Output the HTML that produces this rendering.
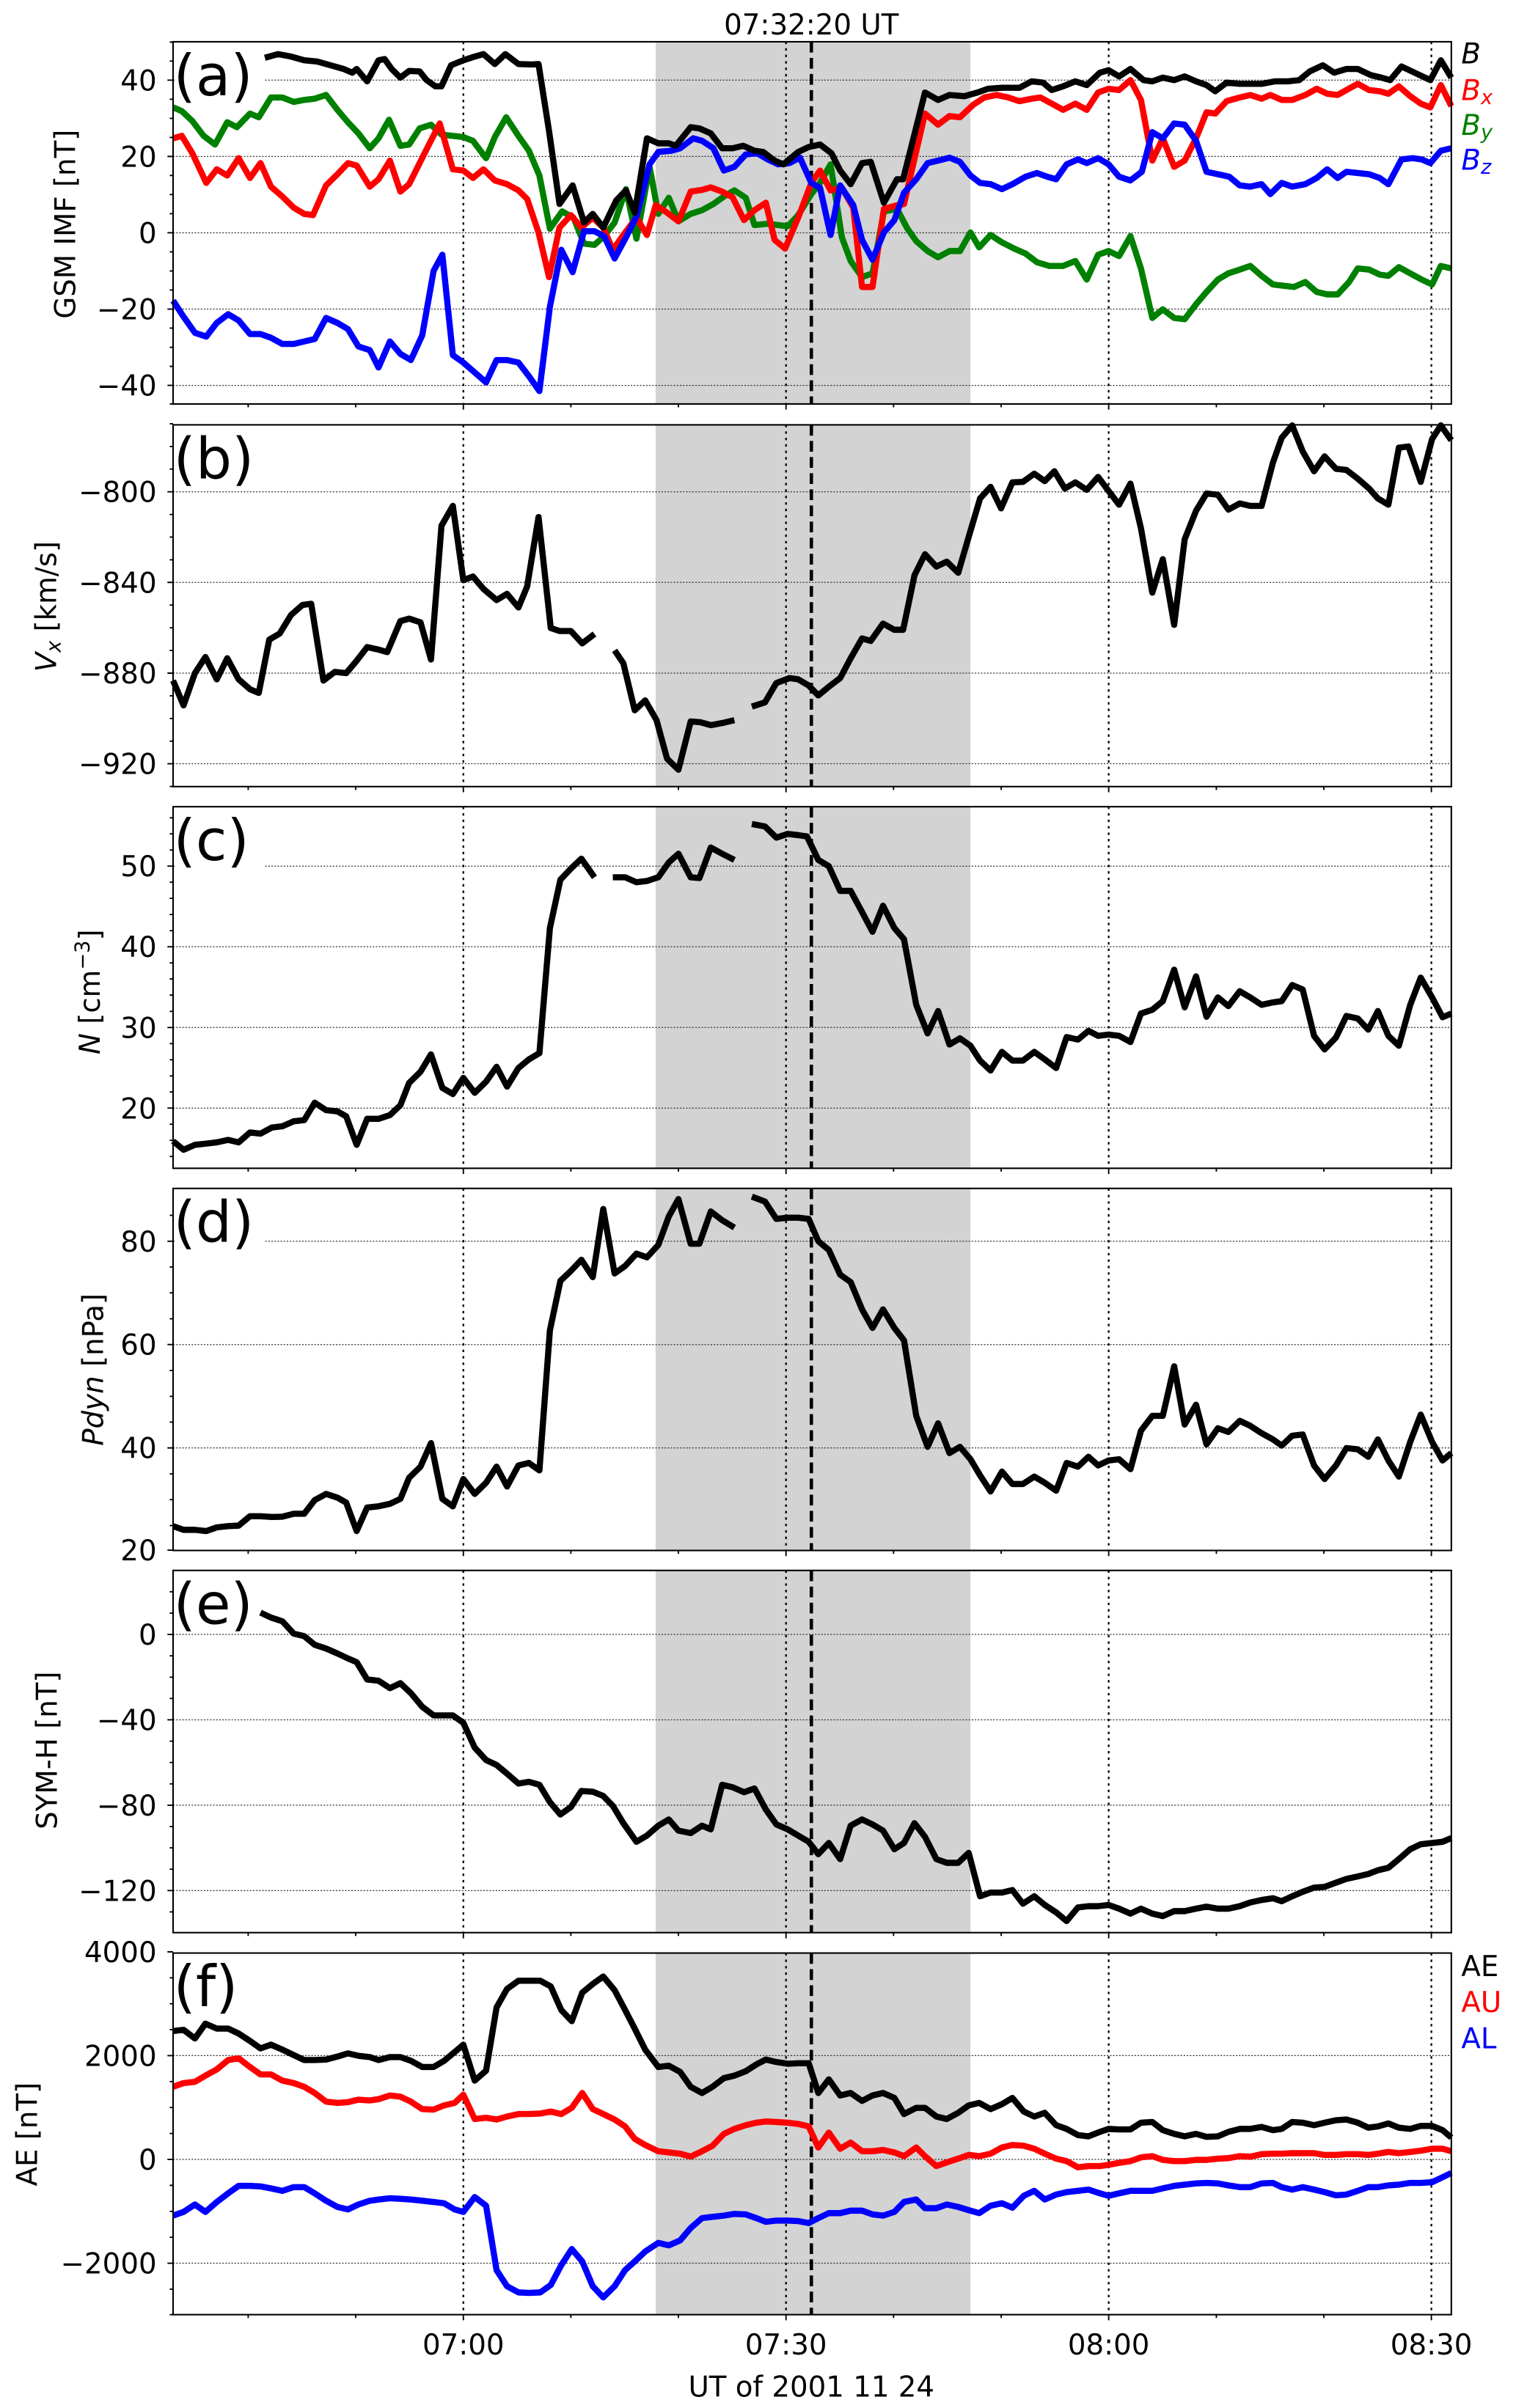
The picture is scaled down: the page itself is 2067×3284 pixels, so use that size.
<!DOCTYPE html>
<html><head><meta charset="utf-8"><style>
html,body{margin:0;padding:0;background:#fff}
svg{display:block}
text{font-family:"DejaVu Sans","Liberation Sans",sans-serif;fill:#000}
polyline{stroke-width:8.4}
</style></head><body>
<svg xmlns="http://www.w3.org/2000/svg" width="2067" height="3284" viewBox="0 0 987.1 1568.3">
<rect width="987.1" height="1568.3" fill="#fff"/>
<!-- shading -->
<g fill="#d3d3d3">
<rect x="426.9" y="27.2" width="205" height="235.9"/>
<rect x="426.9" y="276.7" width="205" height="235.6"/>
<rect x="426.9" y="525.4" width="205" height="235.5"/>
<rect x="426.9" y="774" width="205" height="235.8"/>
<rect x="426.9" y="1022.8" width="205" height="235.9"/>
<rect x="426.9" y="1272" width="205" height="235.5"/>
</g>
<!-- horizontal grid -->
<g stroke="#333" stroke-width="0.6" stroke-dasharray="1,1">
<line x1="112.7" x2="945" y1="52.2" y2="52.2"/><line x1="112.7" x2="945" y1="101.9" y2="101.9"/><line x1="112.7" x2="945" y1="151.6" y2="151.6"/><line x1="112.7" x2="945" y1="201.3" y2="201.3"/><line x1="112.7" x2="945" y1="251" y2="251"/>
<line x1="112.7" x2="945" y1="320.3" y2="320.3"/><line x1="112.7" x2="945" y1="379.3" y2="379.3"/><line x1="112.7" x2="945" y1="438.4" y2="438.4"/><line x1="112.7" x2="945" y1="497.4" y2="497.4"/>
<line x1="112.7" x2="945" y1="564.1" y2="564.1"/><line x1="112.7" x2="945" y1="616.6" y2="616.6"/><line x1="112.7" x2="945" y1="669.2" y2="669.2"/><line x1="112.7" x2="945" y1="721.7" y2="721.7"/>
<line x1="112.7" x2="945" y1="808.4" y2="808.4"/><line x1="112.7" x2="945" y1="875.7" y2="875.7"/><line x1="112.7" x2="945" y1="943" y2="943"/>
<line x1="112.7" x2="945" y1="1064.5" y2="1064.5"/><line x1="112.7" x2="945" y1="1120.1" y2="1120.1"/><line x1="112.7" x2="945" y1="1175.7" y2="1175.7"/><line x1="112.7" x2="945" y1="1231.3" y2="1231.3"/>
<line x1="112.7" x2="945" y1="1338.8" y2="1338.8"/><line x1="112.7" x2="945" y1="1406.4" y2="1406.4"/><line x1="112.7" x2="945" y1="1474" y2="1474"/>
</g>
<!-- vertical dotted lines -->
<g stroke="#000" stroke-width="1.1" stroke-dasharray="1.6,2.6">
<line x1="301.7" x2="301.7" y1="27.2" y2="263.1"/><line x1="511.8" x2="511.8" y1="27.2" y2="263.1"/><line x1="721.9" x2="721.9" y1="27.2" y2="263.1"/><line x1="932" x2="932" y1="27.2" y2="263.1"/>
<line x1="301.7" x2="301.7" y1="276.7" y2="512.3"/><line x1="511.8" x2="511.8" y1="276.7" y2="512.3"/><line x1="721.9" x2="721.9" y1="276.7" y2="512.3"/><line x1="932" x2="932" y1="276.7" y2="512.3"/>
<line x1="301.7" x2="301.7" y1="525.4" y2="760.9"/><line x1="511.8" x2="511.8" y1="525.4" y2="760.9"/><line x1="721.9" x2="721.9" y1="525.4" y2="760.9"/><line x1="932" x2="932" y1="525.4" y2="760.9"/>
<line x1="301.7" x2="301.7" y1="774" y2="1009.8"/><line x1="511.8" x2="511.8" y1="774" y2="1009.8"/><line x1="721.9" x2="721.9" y1="774" y2="1009.8"/><line x1="932" x2="932" y1="774" y2="1009.8"/>
<line x1="301.7" x2="301.7" y1="1022.8" y2="1258.7"/><line x1="511.8" x2="511.8" y1="1022.8" y2="1258.7"/><line x1="721.9" x2="721.9" y1="1022.8" y2="1258.7"/><line x1="932" x2="932" y1="1022.8" y2="1258.7"/>
<line x1="301.7" x2="301.7" y1="1272" y2="1507.5"/><line x1="511.8" x2="511.8" y1="1272" y2="1507.5"/><line x1="721.9" x2="721.9" y1="1272" y2="1507.5"/><line x1="932" x2="932" y1="1272" y2="1507.5"/>
</g>
<g stroke="#000" stroke-width="2.2" stroke-dasharray="7,3.5">
<line x1="528.3" x2="528.3" y1="27.2" y2="263.1"/><line x1="528.3" x2="528.3" y1="276.7" y2="512.3"/><line x1="528.3" x2="528.3" y1="525.4" y2="760.9"/><line x1="528.3" x2="528.3" y1="774" y2="1009.8"/><line x1="528.3" x2="528.3" y1="1022.8" y2="1258.7"/><line x1="528.3" x2="528.3" y1="1272" y2="1507.5"/>
</g>
<!-- label boxes -->
<g fill="#fff"><rect x="114" y="28.5" width="58" height="40"/><rect x="114" y="278" width="58" height="40"/><rect x="114" y="527" width="58" height="40"/><rect x="114" y="775.5" width="58" height="40"/><rect x="114" y="1024" width="58" height="40"/><rect x="114" y="1273.5" width="46" height="40"/></g>
<!-- data -->
<g fill="none" stroke-linejoin="round">
<g transform="matrix(0.5693,0,0,0.16135,95.6,19.10)">
<polyline vector-effect="non-scaling-stroke" stroke="#008000" points="30,315 40,330 52,370 65,430 78,465 92,375 103,395 118,340 128,355 142,275 155,275 168,293 180,285 192,280 205,265 218,325 230,375 242,420 255,480 265,440 277,365 290,470 300,465 312,400 325,385 337,425 350,430 362,435 373,450 388,520 398,435 411,355 425,430 437,490 449,590 461,805 475,735 488,760 500,865 512,870 523,835 535,780 548,645 560,845 575,555 585,745 597,680 608,775 622,745 635,730 648,705 660,675 672,650 685,680 695,790 710,785 722,790 733,795 745,750 760,665 770,620 782,545 795,840 805,935 818,1000 830,985 843,735 858,725 870,805 880,855 893,895 905,920 918,895 930,895 942,820 952,880 965,830 978,860 992,885 1005,905 1018,940 1032,955 1048,955 1062,935 1075,1010 1088,910 1100,895 1112,915 1125,835 1137,965 1150,1165 1162,1130 1175,1165 1187,1170 1200,1110 1212,1060 1225,1010 1237,985 1250,970 1262,955 1275,995 1288,1030 1300,1035 1312,1040 1325,1020 1338,1060 1350,1070 1362,1070 1375,1020 1385,965 1398,970 1410,990 1420,995 1432,960 1445,985 1458,1010 1470,1030 1480,955 1492,965"/>
<polyline vector-effect="non-scaling-stroke" stroke="#ff0000" points="30,440 40,430 52,500 68,620 80,565 92,590 105,520 118,600 130,540 142,635 155,675 168,720 180,745 190,750 205,630 218,585 230,540 240,550 255,635 265,605 278,530 290,655 300,625 312,540 322,470 335,380 350,565 362,570 373,600 385,565 398,610 412,625 425,650 435,685 448,820 460,1000 472,800 485,750 497,800 510,760 522,800 533,890 545,830 560,760 572,830 582,710 595,740 608,775 622,655 635,648 645,638 658,655 670,678 683,770 695,730 708,700 718,850 730,885 745,760 760,620 770,570 782,650 795,640 808,720 818,1040 830,1040 843,725 858,710 866,705 890,340 905,385 918,350 930,355 945,305 958,275 972,265 985,275 998,290 1012,280 1022,275 1035,300 1048,325 1062,300 1075,325 1088,255 1100,240 1112,245 1125,205 1137,285 1150,530 1162,440 1175,555 1187,530 1200,440 1212,335 1222,340 1235,290 1250,275 1262,265 1275,280 1285,265 1298,285 1310,285 1325,265 1338,240 1350,260 1362,265 1372,245 1385,220 1398,245 1410,250 1420,260 1432,230 1445,270 1457,300 1468,315 1480,225 1492,310"/>
<polyline vector-effect="non-scaling-stroke" stroke="#0000ff" points="30,1095 42,1160 55,1225 68,1240 80,1185 93,1150 105,1175 118,1230 130,1230 142,1245 155,1270 168,1270 180,1260 192,1250 205,1165 218,1185 230,1210 242,1280 255,1295 265,1365 278,1260 290,1310 302,1335 315,1235 328,975 338,910 350,1315 362,1345 375,1385 388,1425 400,1335 412,1335 425,1345 437,1400 449,1460 461,1120 474,890 487,980 500,815 512,815 523,835 535,925 548,840 560,755 575,545 585,495 600,490 610,480 625,440 635,450 648,480 660,570 672,555 685,505 698,500 710,525 722,545 735,540 747,518 760,620 770,640 782,830 793,630 808,710 818,850 830,930 843,820 855,770 866,660 880,605 893,540 905,530 918,518 930,535 942,590 953,620 965,625 978,645 990,625 1005,595 1018,580 1030,595 1040,605 1052,545 1065,525 1075,540 1088,520 1100,545 1112,595 1125,610 1138,575 1150,415 1162,440 1175,380 1187,385 1200,450 1212,575 1225,585 1238,595 1250,630 1262,635 1275,625 1285,665 1298,620 1310,635 1325,625 1338,600 1350,565 1362,600 1372,575 1385,580 1398,585 1410,600 1420,625 1435,525 1448,520 1458,525 1468,540 1480,490 1492,480"/>
<polyline vector-effect="non-scaling-stroke" stroke="#000" points="135,115 150,100 165,110 180,125 195,130 210,145 225,160 235,175 240,160 252,210 265,125 272,120 280,160 290,195 300,168 312,170 320,205 330,230 337,230 348,145 362,125 375,110 385,100 398,140 410,100 425,140 440,142 448,140 460,410 472,705 487,630 500,780 510,745 522,800 537,690 548,650 558,740 572,440 585,460 597,460 605,470 622,395 632,400 645,420 658,480 670,480 682,470 695,490 705,495 718,530 728,545 745,495 757,475 770,465 783,500 793,570 805,625 818,540 828,535 843,700 858,605 865,605 890,255 905,285 918,265 935,270 950,255 962,240 978,236 998,236 1012,210 1025,215 1035,245 1048,230 1062,210 1075,225 1090,175 1100,165 1112,190 1125,160 1140,205 1150,210 1162,195 1175,205 1187,190 1200,210 1212,225 1222,250 1235,215 1250,220 1262,220 1275,220 1290,210 1305,210 1318,205 1330,170 1345,145 1358,175 1372,160 1385,160 1400,185 1412,195 1422,205 1435,150 1450,175 1465,200 1468,205 1480,125 1492,195"/>
</g>
<g transform="matrix(0.5693,0,0,0.16135,95.6,272.21)" stroke="#000">
<polyline vector-effect="non-scaling-stroke" points="30,1060 42,1160 55,1030 67,965 80,1055 92,970 105,1055 118,1095 128,1110 140,895 152,870 165,795 178,755 188,750 202,1060 215,1025 228,1030 240,980 252,925 265,935 275,945 290,820 300,810 313,825 325,975 337,435 350,355 362,655 373,640 385,690 400,735 412,710 425,765 435,680 448,400 462,848 472,860 485,860 498,910 512,872"/>
<polyline vector-effect="non-scaling-stroke" points="535,938 545,990 558,1180 570,1140 583,1220 595,1375 608,1420 622,1225 633,1228 645,1240 660,1230 672,1220"/>
<polyline vector-effect="non-scaling-stroke" points="692,1165 707,1148 720,1070 735,1050 745,1055 757,1080 768,1120 780,1085 793,1050 805,970 818,890 828,900 842,830 855,855 865,855 878,635 890,550 903,600 915,580 928,625 940,480 953,325 965,278 977,365 990,260 1002,258 1015,225 1027,255 1038,215 1050,285 1062,260 1075,290 1088,238 1100,295 1112,350 1125,265 1137,445 1150,705 1162,570 1175,835 1187,490 1200,375 1212,305 1225,310 1237,370 1250,345 1262,355 1275,355 1288,180 1298,80 1310,30 1322,135 1335,215 1347,155 1360,205 1372,210 1385,245 1398,285 1408,325 1420,350 1432,120 1443,115 1457,258 1470,85 1480,30 1492,90"/>
</g>
<g transform="matrix(0.5693,0,0,0.16135,95.6,520.53)" stroke="#000">
<polyline vector-effect="non-scaling-stroke" points="30,1380 42,1415 55,1395 68,1390 80,1385 93,1375 105,1385 118,1345 130,1350 143,1325 155,1320 168,1300 180,1295 192,1225 205,1255 218,1260 228,1280 240,1395 252,1290 265,1290 278,1275 290,1235 300,1145 313,1100 325,1030 338,1165 350,1190 362,1125 375,1185 388,1140 400,1080 412,1160 425,1085 437,1050 449,1025 461,520 473,325 485,280 497,240 512,315"/>
<polyline vector-effect="non-scaling-stroke" points="533,315 547,315 560,335 572,330 585,315 597,255 608,220 622,315 632,318 645,195 658,220 672,245"/>
<polyline vector-effect="non-scaling-stroke" points="692,100 707,110 720,155 733,140 745,145 755,150 768,245 780,270 793,370 805,370 818,455 830,535 842,430 855,520 866,565 880,830 893,945 905,855 918,990 930,965 942,995 953,1055 965,1095 978,1020 990,1055 1002,1055 1015,1020 1027,1050 1040,1085 1052,960 1065,970 1077,935 1088,955 1100,950 1112,955 1125,980 1137,865 1150,850 1162,815 1175,688 1187,840 1200,715 1212,878 1225,800 1237,835 1250,775 1262,800 1275,830 1288,820 1298,815 1310,750 1322,768 1335,955 1347,1010 1360,962 1372,875 1385,885 1397,930 1408,855 1420,955 1432,995 1445,830 1457,720 1470,800 1482,880 1492,865"/>
</g>
<g transform="matrix(0.5693,0,0,0.16135,95.6,768.86)" stroke="#000">
<polyline vector-effect="non-scaling-stroke" points="30,1395 42,1410 55,1410 68,1415 80,1400 93,1395 105,1393 118,1355 130,1355 143,1358 155,1357 168,1345 180,1345 192,1290 205,1265 218,1280 228,1300 240,1415 252,1320 265,1315 278,1305 290,1285 300,1200 313,1155 325,1060 338,1285 350,1315 362,1205 375,1265 388,1220 400,1155 412,1235 425,1150 437,1140 449,1170 461,605 473,405 485,365 497,320 510,390 522,115 535,375 547,345 560,295 572,310 585,260 597,145 608,75 622,255 632,255 645,125 658,160 672,190"/>
<polyline vector-effect="non-scaling-stroke" points="692,65 707,85 720,155 733,150 745,150 757,155 768,245 780,280 793,380 805,410 818,520 830,595 842,520 855,595 866,645 880,950 893,1075 905,980 918,1100 930,1075 942,1125 953,1190 965,1255 978,1175 990,1225 1002,1225 1015,1195 1027,1220 1040,1252 1052,1140 1065,1155 1077,1115 1088,1150 1100,1130 1112,1125 1125,1165 1137,1010 1150,950 1162,950 1175,750 1187,985 1200,905 1212,1065 1225,1000 1237,1015 1250,970 1262,990 1275,1020 1288,1045 1298,1070 1310,1030 1322,1025 1335,1150 1347,1205 1360,1150 1372,1080 1385,1085 1397,1115 1408,1045 1420,1130 1432,1195 1445,1055 1457,945 1470,1055 1482,1130 1492,1100"/>
</g>
<g transform="matrix(0.5693,0,0,0.16135,95.6,1017.19)" stroke="#000">
<polyline vector-effect="non-scaling-stroke" points="130,205 142,225 155,240 168,290 180,300 192,335 205,350 218,370 230,390 240,405 252,475 265,480 278,510 290,490 302,530 315,585 328,620 340,620 350,620 362,650 375,750 388,800 400,820 412,855 425,895 437,888 449,900 461,970 473,1020 485,990 497,925 510,928 522,945 533,985 545,1055 560,1130 572,1105 585,1065 597,1040 608,1085 622,1095 635,1065 645,1080 658,900 670,910 683,930 695,915 708,1000 720,1060 733,1080 745,1105 757,1130 768,1180 780,1135 793,1200 805,1065 818,1040 830,1060 842,1085 855,1160 866,1135 878,1055 890,1110 903,1200 915,1215 928,1215 940,1175 953,1350 965,1335 978,1335 990,1325 1002,1380 1015,1350 1027,1385 1040,1415 1052,1450 1065,1395 1077,1390 1088,1390 1100,1385 1112,1400 1125,1420 1137,1400 1150,1420 1162,1430 1175,1410 1187,1410 1200,1400 1212,1392 1225,1400 1237,1400 1250,1390 1262,1375 1275,1365 1288,1358 1298,1370 1310,1350 1322,1332 1335,1315 1347,1312 1360,1295 1372,1280 1385,1270 1397,1260 1408,1245 1420,1235 1432,1200 1445,1160 1457,1140 1470,1135 1482,1130 1492,1115"/>
</g>
<g transform="matrix(0.5693,0,0,0.16135,95.6,1265.52)">
<polyline vector-effect="non-scaling-stroke" stroke="#000" points="30,355 42,350 55,385 67,325 80,345 93,345 105,365 118,395 130,425 142,410 155,430 168,452 180,472 192,472 205,470 218,458 230,445 242,455 255,460 265,472 278,460 290,460 302,475 315,500 328,500 340,475 352,440 362,410 375,555 388,515 400,260 412,185 425,152 437,152 450,152 462,175 474,270 486,315 498,200 510,165 522,135 535,190 547,270 558,345 570,430 585,500 597,495 610,520 622,580 635,605 647,580 660,545 672,535 685,517 697,490 708,470 720,480 733,487 745,485 757,485 768,605 780,550 793,615 805,605 818,637 830,615 842,605 855,625 866,690 880,665 890,665 903,700 915,710 928,685 940,655 952,645 965,670 978,650 990,625 1003,680 1015,700 1027,685 1040,735 1052,750 1065,775 1077,780 1090,762 1100,750 1112,752 1125,752 1137,725 1150,722 1162,755 1175,770 1187,780 1200,770 1212,782 1225,780 1237,762 1250,750 1262,750 1275,742 1288,755 1298,750 1310,722 1322,725 1335,735 1347,725 1360,715 1372,712 1385,725 1397,745 1408,740 1420,728 1432,745 1445,750 1457,738 1470,738 1482,755 1492,785"/>
<polyline vector-effect="non-scaling-stroke" stroke="#ff0000" points="30,580 42,565 55,560 67,535 80,510 93,472 105,465 118,500 130,530 142,530 155,555 168,565 180,580 192,605 205,640 218,645 230,642 242,632 255,635 265,630 278,615 290,620 302,640 315,670 328,672 340,655 352,645 362,612 375,710 388,705 400,712 412,700 425,690 437,690 450,688 462,680 474,690 486,665 498,605 510,670 522,690 535,712 547,740 558,790 570,815 585,840 597,845 610,850 622,862 635,840 647,818 660,770 672,750 685,735 697,725 708,720 720,722 733,725 745,730 757,740 768,825 780,765 793,830 805,805 818,840 830,840 842,835 855,845 866,860 880,825 890,860 903,900 915,885 928,870 940,855 952,860 965,850 978,825 990,815 1003,818 1015,830 1027,850 1040,870 1052,880 1065,905 1077,900 1090,900 1100,895 1112,887 1125,880 1137,865 1150,860 1162,875 1175,880 1187,880 1200,875 1212,875 1225,870 1237,868 1250,860 1262,862 1275,852 1288,850 1298,850 1310,848 1322,848 1335,848 1347,855 1360,855 1372,852 1385,852 1397,855 1408,850 1420,843 1432,848 1445,843 1457,838 1470,830 1482,830 1492,840"/>
<polyline vector-effect="non-scaling-stroke" stroke="#0000ff" points="30,1100 42,1085 55,1055 67,1085 80,1045 93,1010 105,980 118,980 130,982 142,990 155,1000 168,985 180,985 192,1010 205,1040 218,1065 230,1075 242,1055 255,1040 265,1035 278,1030 290,1032 302,1035 315,1040 328,1045 340,1050 352,1075 362,1085 375,1025 388,1060 400,1320 412,1385 425,1410 437,1412 450,1410 462,1380 474,1300 486,1235 498,1285 510,1385 522,1430 535,1385 547,1320 558,1285 570,1245 585,1210 597,1220 610,1200 622,1150 635,1110 647,1105 660,1100 672,1093 685,1095 697,1110 708,1125 720,1120 733,1120 745,1122 757,1130 768,1110 780,1090 793,1090 805,1080 818,1080 830,1095 842,1100 855,1085 866,1045 880,1035 890,1070 903,1070 915,1055 928,1065 940,1078 952,1090 965,1060 978,1050 990,1068 1003,1020 1015,1000 1027,1035 1040,1015 1052,1005 1065,1000 1077,995 1090,1010 1100,1020 1112,1010 1125,1000 1137,1000 1150,1000 1162,990 1175,980 1187,975 1200,970 1212,968 1225,970 1237,978 1250,985 1262,985 1275,970 1288,968 1298,985 1310,995 1322,985 1335,995 1347,1005 1360,1018 1372,1015 1385,1000 1397,985 1408,985 1420,978 1432,975 1445,968 1457,968 1470,965 1482,945 1492,928"/>
</g>
</g>
<!-- frames -->
<g fill="none" stroke="#000" stroke-width="1">
<rect x="112.7" y="27.2" width="832.3" height="235.9"/>
<rect x="112.7" y="276.7" width="832.3" height="235.6"/>
<rect x="112.7" y="525.4" width="832.3" height="235.5"/>
<rect x="112.7" y="774" width="832.3" height="235.8"/>
<rect x="112.7" y="1022.8" width="832.3" height="235.9"/>
<rect x="112.7" y="1272" width="832.3" height="235.5"/>
</g>
<!-- x ticks -->
<g stroke="#000" stroke-width="0.9">
<path d="M301.7,263.1v3.7M511.8,263.1v3.7M721.9,263.1v3.7M932,263.1v3.7M161.6,263.1v2.2M231.6,263.1v2.2M371.7,263.1v2.2M441.7,263.1v2.2M581.8,263.1v2.2M651.9,263.1v2.2M792,263.1v2.2M862,263.1v2.2"/>
<path transform="translate(0,249.2)" d="M301.7,263.1v3.7M511.8,263.1v3.7M721.9,263.1v3.7M932,263.1v3.7M161.6,263.1v2.2M231.6,263.1v2.2M371.7,263.1v2.2M441.7,263.1v2.2M581.8,263.1v2.2M651.9,263.1v2.2M792,263.1v2.2M862,263.1v2.2"/>
<path transform="translate(0,497.8)" d="M301.7,263.1v3.7M511.8,263.1v3.7M721.9,263.1v3.7M932,263.1v3.7M161.6,263.1v2.2M231.6,263.1v2.2M371.7,263.1v2.2M441.7,263.1v2.2M581.8,263.1v2.2M651.9,263.1v2.2M792,263.1v2.2M862,263.1v2.2"/>
<path transform="translate(0,746.7)" d="M301.7,263.1v3.7M511.8,263.1v3.7M721.9,263.1v3.7M932,263.1v3.7M161.6,263.1v2.2M231.6,263.1v2.2M371.7,263.1v2.2M441.7,263.1v2.2M581.8,263.1v2.2M651.9,263.1v2.2M792,263.1v2.2M862,263.1v2.2"/>
<path transform="translate(0,995.6)" d="M301.7,263.1v3.7M511.8,263.1v3.7M721.9,263.1v3.7M932,263.1v3.7M161.6,263.1v2.2M231.6,263.1v2.2M371.7,263.1v2.2M441.7,263.1v2.2M581.8,263.1v2.2M651.9,263.1v2.2M792,263.1v2.2M862,263.1v2.2"/>
<path transform="translate(0,1244.4)" d="M301.7,263.1v3.7M511.8,263.1v3.7M721.9,263.1v3.7M932,263.1v3.7M161.6,263.1v2.2M231.6,263.1v2.2M371.7,263.1v2.2M441.7,263.1v2.2M581.8,263.1v2.2M651.9,263.1v2.2M792,263.1v2.2M862,263.1v2.2"/>
</g>
<!-- y ticks -->
<g stroke="#000" stroke-width="0.9">
<path d="M112.7,52.2h-3.7M112.7,101.9h-3.7M112.7,151.6h-3.7M112.7,201.3h-3.7M112.7,251h-3.7
M112.7,27.4h-2.2M112.7,39.8h-2.2M112.7,64.6h-2.2M112.7,77.1h-2.2M112.7,89.5h-2.2M112.7,114.3h-2.2M112.7,126.7h-2.2M112.7,139.2h-2.2M112.7,164h-2.2M112.7,176.5h-2.2M112.7,188.9h-2.2M112.7,213.7h-2.2M112.7,226.2h-2.2M112.7,238.6h-2.2M112.7,263.1h-2.2"/>
<path d="M112.7,320.3h-3.7M112.7,379.3h-3.7M112.7,438.4h-3.7M112.7,497.4h-3.7
M112.7,276.0h-2.2M112.7,290.8h-2.2M112.7,305.5h-2.2M112.7,335.1h-2.2M112.7,349.8h-2.2M112.7,364.6h-2.2M112.7,394.1h-2.2M112.7,408.9h-2.2M112.7,423.6h-2.2M112.7,453.2h-2.2M112.7,467.9h-2.2M112.7,482.7h-2.2M112.7,512.2h-2.2"/>
<path d="M112.7,564.1h-3.7M112.7,616.6h-3.7M112.7,669.2h-3.7M112.7,721.7h-3.7
M112.7,532.6h-2.2M112.7,543.1h-2.2M112.7,553.6h-2.2M112.7,574.6h-2.2M112.7,585.1h-2.2M112.7,595.6h-2.2M112.7,606.1h-2.2M112.7,627.1h-2.2M112.7,637.6h-2.2M112.7,648.1h-2.2M112.7,658.7h-2.2M112.7,679.7h-2.2M112.7,690.2h-2.2M112.7,700.7h-2.2M112.7,711.2h-2.2M112.7,732.2h-2.2M112.7,742.7h-2.2M112.7,753.2h-2.2"/>
<path d="M112.7,808.4h-3.7M112.7,875.7h-3.7M112.7,943h-3.7M112.7,1009.6h-3.7
M112.7,791.5h-2.2M112.7,825.2h-2.2M112.7,842h-2.2M112.7,858.9h-2.2M112.7,892.6h-2.2M112.7,909.4h-2.2M112.7,926.2h-2.2M112.7,959.9h-2.2M112.7,976.7h-2.2M112.7,993.6h-2.2"/>
<path d="M112.7,1064.5h-3.7M112.7,1120.1h-3.7M112.7,1175.7h-3.7M112.7,1231.3h-3.7
M112.7,1036.7h-2.2M112.7,1050.6h-2.2M112.7,1078.4h-2.2M112.7,1092.3h-2.2M112.7,1106.2h-2.2M112.7,1134h-2.2M112.7,1147.9h-2.2M112.7,1161.8h-2.2M112.7,1189.6h-2.2M112.7,1203.5h-2.2M112.7,1217.4h-2.2M112.7,1245.2h-2.2"/>
<path d="M112.7,1271.2h-3.7M112.7,1338.8h-3.7M112.7,1406.4h-3.7M112.7,1474h-3.7
M112.7,1288.1h-2.2M112.7,1305h-2.2M112.7,1321.9h-2.2M112.7,1355.7h-2.2M112.7,1372.6h-2.2M112.7,1389.5h-2.2M112.7,1423.3h-2.2M112.7,1440.2h-2.2M112.7,1457.1h-2.2M112.7,1490.9h-2.2M112.7,1507.5h-2.2"/>
</g>
<!-- y tick labels -->
<g font-size="18.5" text-anchor="end">
<text x="102" y="58.9">40</text><text x="102" y="108.6">20</text><text x="102" y="158.3">0</text><text x="102" y="208">−20</text><text x="102" y="257.7">−40</text>
<text x="102" y="327">−800</text><text x="102" y="386">−840</text><text x="102" y="445.1">−880</text><text x="102" y="504.1">−920</text>
<text x="102" y="570.8">50</text><text x="102" y="623.3">40</text><text x="102" y="675.9">30</text><text x="102" y="728.4">20</text>
<text x="102" y="815.1">80</text><text x="102" y="882.4">60</text><text x="102" y="949.7">40</text><text x="102" y="1016.3">20</text>
<text x="102" y="1071.2">0</text><text x="102" y="1126.8">−40</text><text x="102" y="1182.4">−80</text><text x="102" y="1238">−120</text>
<text x="102" y="1277.9">4000</text><text x="102" y="1345.5">2000</text><text x="102" y="1413.1">0</text><text x="102" y="1480.7">−2000</text>
</g>
<!-- x tick labels -->
<g font-size="18.5" text-anchor="middle">
<text x="301.7" y="1533.5">07:00</text><text x="511.8" y="1533.5">07:30</text><text x="721.9" y="1533.5">08:00</text><text x="932" y="1533.5">08:30</text>
<text x="528.3" y="1561">UT of 2001 11 24</text>
<text x="528.3" y="22.5">07:32:20 UT</text>
</g>
<!-- y axis labels -->
<g font-size="18.5" text-anchor="middle">
<text transform="translate(49,146) rotate(-90)">GSM IMF [nT]</text>
<text transform="translate(36.5,395) rotate(-90)"><tspan font-style="italic">V</tspan><tspan font-size="13" font-style="italic" dy="3">x</tspan><tspan dy="-3"> [km/s]</tspan></text>
<text transform="translate(65,646) rotate(-90)"><tspan font-style="italic">N</tspan> [cm<tspan font-size="13" dy="-7">−3</tspan><tspan dy="7">]</tspan></text>
<text transform="translate(67,892) rotate(-90)"><tspan font-style="italic">Pdyn</tspan> [nPa]</text>
<text transform="translate(37,1140) rotate(-90)">SYM-H [nT]</text>
<text transform="translate(24,1390) rotate(-90)">AE [nT]</text>
</g>
<!-- panel labels -->
<g font-size="37">
<text x="113" y="62">(a)</text><text x="113" y="311.5">(b)</text><text x="113" y="560.2">(c)</text><text x="113" y="808.8">(d)</text><text x="113" y="1057.5">(e)</text><text x="113" y="1306.5">(f)</text>
</g>
<!-- legends -->
<g font-size="18.5" font-style="italic">
<text x="951.5" y="41.4">B</text>
<text x="951.5" y="65.3" style="fill:#ff0000">B<tspan font-size="13" dy="2.5">x</tspan></text>
<text x="951.5" y="87.9" style="fill:#008000">B<tspan font-size="13" dy="2.5">y</tspan></text>
<text x="951.5" y="110.6" style="fill:#0000ff">B<tspan font-size="13" dy="2.5">z</tspan></text>
</g>
<g font-size="18.5">
<text x="951.5" y="1287">AE</text>
<text x="951.5" y="1310.5" style="fill:#ff0000">AU</text>
<text x="951.5" y="1334" style="fill:#0000ff">AL</text>
</g>
</svg>
</body></html>
